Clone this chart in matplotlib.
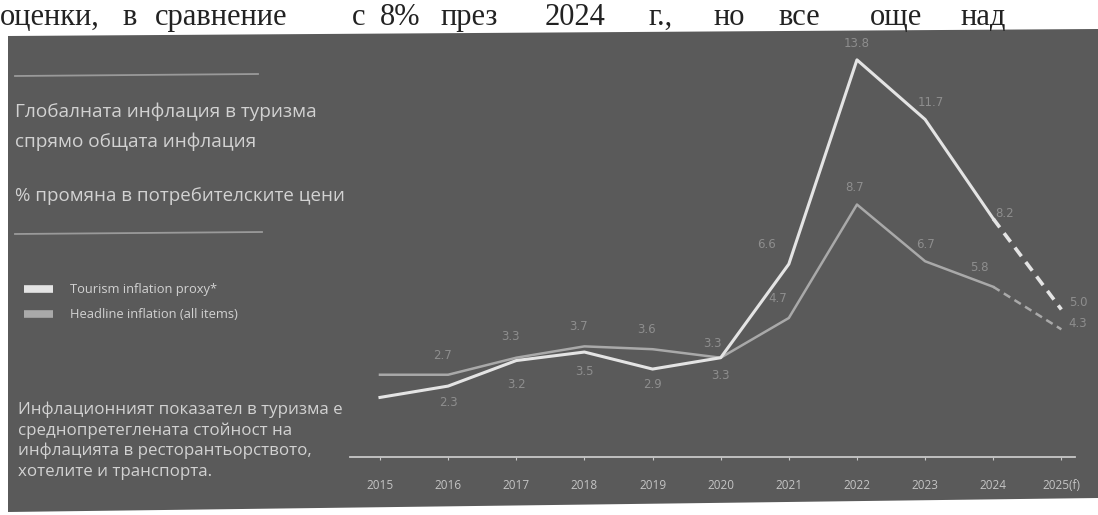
import matplotlib.pyplot as plt
from matplotlib.patches import Polygon
from matplotlib.lines import Line2D

years = ["2015", "2016", "2017", "2018", "2019", "2020", "2021", "2022", "2023", "2024", "2025(f)"]
tourism = [1.9, 2.3, 3.2, 3.5, 2.9, 3.3, 6.6, 13.8, 11.7, 8.2, 5.0]
headline = [2.7, 2.7, 3.3, 3.7, 3.6, 3.3, 4.7, 8.7, 6.7, 5.8, 4.3]
n_actual = 10  # last point is a forecast, drawn dashed

title_lines = ["Глобалната инфлация в туризма", "спрямо общата инфлация"]
subtitle = "% промяна в потребителските цени"
legend_labels = ["Tourism inflation proxy*", "Headline inflation (all items)"]
note_lines = [
    "Инфлационният показател в туризма е",
    "среднопретеглената стойност на",
    "инфлацията в ресторантьорството,",
    "хотелите и транспорта.",
]
page_words = ["оценки,", "в", "сравнение", "с", "8%", "през", "2024", "г.,", "но", "все", "още", "над"]
page_word_x = [0, 122, 155, 352, 380, 440, 545, 648, 713, 778, 870, 960]

BG = "#5a5a5a"
C_TOUR = "#e4e4e4"
C_HEAD = "#a9a9a9"
C_TEXT = "#d2d2d2"
C_LABEL = "#8e8e8e"

W, H = 1098, 515
fig = plt.figure(figsize=(W / 100, H / 100), dpi=100, facecolor="white")


def fx(px):
    return px / W


def fy(py):
    return 1 - py / H


# dark panel from the scanned page (slightly skewed scan)
panel = Polygon([(fx(8), fy(36)), (fx(1098), fy(29)), (fx(1098), fy(498)), (fx(8), fy(512))],
                closed=True, transform=fig.transFigure, facecolor=BG, edgecolor="none", zorder=-5)
fig.add_artist(panel)

# page text above the chart
for w, x in zip(page_words, page_word_x):
    fig.text(fx(x), fy(25), w, fontsize=22, family="Liberation Serif", color="#222222", va="baseline")

# left panel
sans = ["Open Sans", "DejaVu Sans"]
fig.add_artist(Line2D([fx(15), fx(258)], [fy(76), fy(74)], color="#9a9a9a", lw=1.3))
fig.add_artist(Line2D([fx(15), fx(262)], [fy(234), fy(232)], color="#9a9a9a", lw=1.3))
for i, line in enumerate(title_lines):
    fig.text(fx(15), fy(112 + i * 30), line, fontsize=13.7, family=sans, color=C_TEXT, va="center")
fig.text(fx(15), fy(196), subtitle, fontsize=13.5, family=sans, color=C_TEXT, va="center")

for i, (lab, col) in enumerate(zip(legend_labels, [C_TOUR, C_HEAD])):
    y = fy(289 + i * 25)
    fig.add_artist(Line2D([fx(24), fx(53)], [y, y], color=col, lw=5.5, solid_capstyle="butt"))
    fig.text(fx(70), y, lab, fontsize=9.3, family=sans, color=C_TEXT, va="center")

for i, line in enumerate(note_lines):
    fig.text(fx(18), fy(410 + i * 20.5), line, fontsize=12.2, family=sans, color=C_TEXT, va="center")

# main chart
ax = fig.add_axes([fx(350), fy(457), fx(1075) - fx(350), fy(40) - fy(457)])
ax.set_facecolor("none")
x = list(range(len(years)))

ax.plot(x[:n_actual], headline[:n_actual], color=C_HEAD, lw=1.8, zorder=2)
ax.plot(x[n_actual - 1:], headline[n_actual - 1:], color=C_HEAD, lw=1.8, ls=(0, (3, 2)), zorder=2)
ax.plot(x[:n_actual], tourism[:n_actual], color=C_TOUR, lw=2.2, zorder=3)
ax.plot(x[n_actual - 1:], tourism[n_actual - 1:], color=C_TOUR, lw=2.6, ls=(0, (3, 2)), zorder=3)

# value labels (none shown for the first year)
t_off = [None, (0, -12), (0, -17), (0, -14), (0, -11), (0, -13), (-16, 14), (0, 12), (4, 12), (8, 4), (12, 5)]
h_off = [None, (-4, 14), (-4, 15), (-4, 14), (-4, 14), (-6, 10), (-8, 14), (-2, 12), (0, 12), (-10, 14), (12, 4)]
for i in range(1, len(years)):
    ax.annotate(f"{tourism[i]:.1f}", (x[i], tourism[i]), xytext=t_off[i],
                textcoords="offset points", ha="center", va="center", fontsize=8.5, color=C_LABEL)
    ax.annotate(f"{headline[i]:.1f}", (x[i], headline[i]), xytext=h_off[i],
                textcoords="offset points", ha="center", va="center", fontsize=8.5, color=C_LABEL)

ax.set_xlim(-0.44, 10.2)
ax.set_ylim(-0.2, 14.5)
ax.set_xticks(x)
ax.set_xticklabels(years, fontsize=8.5, color="#c4c4c4", family=sans)
ax.set_yticks([])
for s in ["top", "right", "left"]:
    ax.spines[s].set_visible(False)
ax.spines["bottom"].set_color("#c8c8c8")
ax.spines["bottom"].set_linewidth(1.3)
ax.tick_params(axis="x", length=2, color="#c8c8c8", pad=14)

fig.savefig("out.png", dpi=100, facecolor="white")
plt.close(fig)
